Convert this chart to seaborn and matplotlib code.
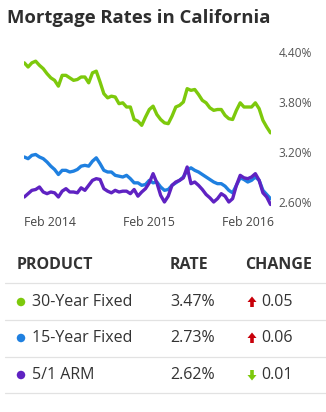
import matplotlib
matplotlib.use("Agg")
import matplotlib.pyplot as plt
import matplotlib.dates as mdates
import matplotlib.patches as mpatches
import seaborn as sns
import pandas as pd
import numpy as np

sns.set_theme(style="white")
plt.rcParams['font.family'] = ['Open Sans', 'DejaVu Sans']

# ---------------- data ----------------
start_date = "2013-10-29"
n_points = 66

rate_30yr = [4.27, 4.22, 4.27, 4.29, 4.24, 4.20, 4.14, 4.09, 4.06, 3.99,
             4.12, 4.12, 4.09, 4.06, 4.07, 4.10, 4.10, 4.03, 4.15, 4.17,
             4.04, 3.90, 3.85, 3.87, 3.86, 3.78, 3.79, 3.74, 3.74, 3.59,
             3.57, 3.52, 3.62, 3.71, 3.75, 3.65, 3.59, 3.55, 3.54, 3.63,
             3.74, 3.76, 3.80, 3.96, 3.94, 3.95, 3.89, 3.82, 3.79, 3.73,
             3.70, 3.71, 3.71, 3.64, 3.60, 3.59, 3.70, 3.79, 3.74, 3.74,
             3.74, 3.79, 3.72, 3.58, 3.50, 3.43]
rate_15yr = [3.14, 3.12, 3.16, 3.17, 3.14, 3.12, 3.08, 3.03, 2.99, 2.93,
             2.98, 2.98, 2.96, 2.97, 2.99, 3.03, 3.04, 3.03, 3.09, 3.13,
             3.06, 2.98, 2.96, 2.96, 2.92, 2.91, 2.90, 2.92, 2.88, 2.83,
             2.83, 2.80, 2.81, 2.86, 2.83, 2.84, 2.78, 2.74, 2.75, 2.80,
             2.83, 2.86, 2.90, 2.98, 3.01, 2.98, 2.96, 2.93, 2.90, 2.87,
             2.84, 2.82, 2.82, 2.79, 2.74, 2.71, 2.80, 2.89, 2.87, 2.84,
             2.86, 2.90, 2.86, 2.74, 2.69, 2.64]
rate_arm = [2.66, 2.70, 2.74, 2.75, 2.78, 2.72, 2.70, 2.72, 2.71, 2.66,
            2.73, 2.76, 2.72, 2.72, 2.71, 2.77, 2.74, 2.80, 2.86, 2.88,
            2.87, 2.76, 2.73, 2.71, 2.74, 2.72, 2.73, 2.73, 2.70, 2.75,
            2.67, 2.72, 2.76, 2.83, 2.94, 2.83, 2.68, 2.60, 2.67, 2.80,
            2.84, 2.86, 2.89, 3.02, 2.82, 2.84, 2.80, 2.75, 2.69, 2.65,
            2.60, 2.64, 2.70, 2.67, 2.60, 2.64, 2.80, 2.92, 2.89, 2.88,
            2.90, 2.94, 2.86, 2.71, 2.66, 2.57]

products = ["30-Year Fixed", "15-Year Fixed", "5/1 ARM"]
current_rates = ["3.47%", "2.73%", "2.62%"]
changes = ["0.05", "0.06", "0.01"]
change_dirs = ["up", "up", "down"]
colors = ["#7dc90c", "#1f80e0", "#5f22c2"]

y_ticks = [2.60, 3.20, 3.80, 4.40]
x_tick_dates = ["2014-02-01", "2015-02-01", "2016-02-01"]
x_tick_labels = ["Feb 2014", "Feb 2015", "Feb 2016"]

dates = pd.date_range(start_date, periods=n_points, freq="14D")
df = pd.DataFrame({"date": dates, "30-Year Fixed": rate_30yr,
                   "15-Year Fixed": rate_15yr, "5/1 ARM": rate_arm})
long = df.melt(id_vars="date", var_name="product", value_name="rate")

# ---------------- figure ----------------
W, H = 326, 412
fig = plt.figure(figsize=(W / 100, H / 100), dpi=100)
fig.patch.set_facecolor("white")

def fx(px):
    return px / W

def fy(py):
    return 1 - py / H

fig.text(fx(7), fy(18), "Mortgage Rates in California", fontsize=13.3,
         fontweight="bold", color="#2e2e2e", ha="left", va="center")

ax_left, ax_right = 24.3, 270.5
ax_top, ax_bot = 45, 210
ax = fig.add_axes([fx(ax_left), fy(ax_bot), fx(ax_right - ax_left),
                   (ax_bot - ax_top) / H])
sns.lineplot(data=long, x="date", y="rate", hue="product",
             hue_order=products, palette=colors, linewidth=2.4,
             legend=False, ax=ax)
ax.set_xlim(dates[0], dates[-1])
per_px = (4.40 - 2.60) / (202 - 52)
ax.set_ylim(2.60 - (ax_bot - 202) * per_px, 4.40 + (52 - ax_top) * per_px)
ax.yaxis.tick_right()
ax.set_yticks(y_ticks)
ax.set_yticklabels([f"{v:.2f}%" for v in y_ticks])
ax.set_xticks(pd.to_datetime(x_tick_dates))
ax.set_xticklabels(x_tick_labels)
ax.tick_params(axis="y", length=0, pad=6, labelsize=8.6, labelcolor="#555555")
ax.tick_params(axis="x", length=0, pad=4, labelsize=8.8, labelcolor="#444444")
ax.set_xlabel("")
ax.set_ylabel("")
for s in ax.spines.values():
    s.set_visible(False)
ax.grid(False)

# ---------------- table ----------------
hdr_y = 265
fs_tab = 11.5
fig.text(fx(17), fy(hdr_y), "PRODUCT", fontsize=fs_tab, fontweight="bold",
         color="#333333", ha="left", va="center")
fig.text(fx(170), fy(hdr_y), "RATE", fontsize=fs_tab, fontweight="bold",
         color="#333333", ha="left", va="center")
fig.text(fx(245), fy(hdr_y), "CHANGE", fontsize=fs_tab, fontweight="bold",
         color="#333333", ha="left", va="center")

for ly in [283, 320, 357, 393]:
    fig.add_artist(plt.Line2D([fx(5), fx(326)], [fy(ly), fy(ly)],
                              color="#e2e2e2", linewidth=0.9))

row_ys = [302, 338, 375]
for i, ry in enumerate(row_ys):
    fig.add_artist(mpatches.Ellipse((fx(21), fy(ry)), width=fx(8.5),
                                    height=8.5 / H, color=colors[i], lw=0))
    fig.text(fx(32), fy(ry), products[i], fontsize=fs_tab, color="#333333",
             ha="left", va="center")
    fig.text(fx(170), fy(ry), current_rates[i], fontsize=fs_tab,
             color="#333333", ha="left", va="center")
    fig.text(fx(261), fy(ry), changes[i], fontsize=fs_tab, color="#333333",
             ha="left", va="center")
    # arrow
    cx = 252
    if change_dirs[i] == "up":
        col = "#c8000a"
        pts = [(cx - 4.5, ry), (cx, ry - 5.5), (cx + 4.5, ry),
               (cx + 1.8, ry), (cx + 1.8, ry + 5), (cx - 1.8, ry + 5),
               (cx - 1.8, ry)]
    else:
        col = "#7dc90c"
        pts = [(cx - 4.5, ry), (cx, ry + 5.5), (cx + 4.5, ry),
               (cx + 1.8, ry), (cx + 1.8, ry - 5), (cx - 1.8, ry - 5),
               (cx - 1.8, ry)]
    fig.add_artist(mpatches.Polygon([(fx(a), fy(b)) for a, b in pts],
                                    closed=True, color=col, lw=0))

fig.savefig("out.png", dpi=100, facecolor="white")
